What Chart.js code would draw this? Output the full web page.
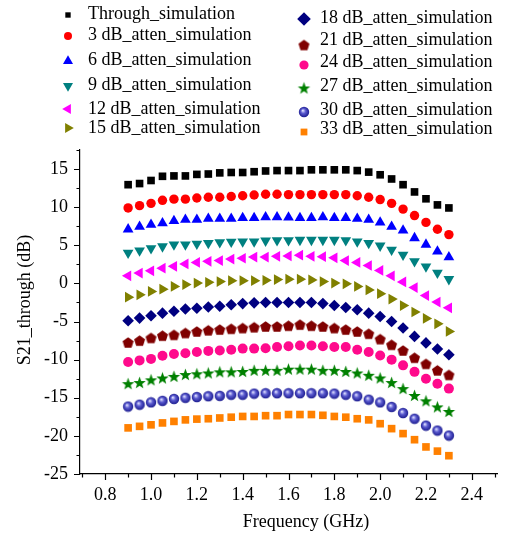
<!DOCTYPE html>
<html>
<head>
<meta charset="utf-8">
<script src="https://cdn.jsdelivr.net/npm/chart.js@4/dist/chart.umd.min.js"></script>
<style>
  html, body { margin: 0; padding: 0; background: #fff; }
  canvas { display: block; }
</style>
</head>
<body>
<canvas id="chart" width="505" height="536"></canvas>
<script>
// Frequency points (GHz)
const freqGHz = [0.90, 0.95, 1.00, 1.05, 1.10, 1.15, 1.20, 1.25, 1.30, 1.35,
                 1.40, 1.45, 1.50, 1.55, 1.60, 1.65, 1.70, 1.75, 1.80, 1.85,
                 1.90, 1.95, 2.00, 2.05, 2.10, 2.15, 2.20, 2.25, 2.30];

// S21 (dB) for each attenuator setting
const through = [12.95, 13.1, 13.5, 14.05, 14.1, 14.1, 14.3, 14.35, 14.5, 14.55,
                 14.55, 14.65, 14.75, 14.8, 14.8, 14.8, 14.9, 14.9, 14.9, 14.9,
                 14.8, 14.6, 14.25, 13.7, 12.95, 12.0, 11.1, 10.3, 9.9];
const atten3  = [9.9, 10.2, 10.5, 10.9, 11.05, 11.05, 11.2, 11.3, 11.3, 11.4,
                 11.5, 11.6, 11.7, 11.7, 11.65, 11.65, 11.65, 11.65, 11.65, 11.65,
                 11.5, 11.3, 11.0, 10.5, 9.75, 8.9, 8.0, 7.1, 6.4];
const atten6  = [7.1, 7.45, 7.7, 7.9, 8.2, 8.35, 8.35, 8.5, 8.5, 8.5,
                 8.6, 8.6, 8.7, 8.7, 8.65, 8.6, 8.6, 8.7, 8.6, 8.6,
                 8.5, 8.35, 8.0, 7.45, 6.95, 5.95, 5.1, 4.2, 3.45];
const atten9  = [4.0, 4.3, 4.6, 4.85, 5.1, 5.1, 5.2, 5.3, 5.4, 5.45,
                 5.5, 5.5, 5.6, 5.65, 5.65, 5.7, 5.7, 5.7, 5.7, 5.65,
                 5.5, 5.3, 4.95, 4.4, 3.75, 2.9, 2.2, 1.4, 0.55];
const atten12 = [1.0, 1.35, 1.65, 2.0, 2.25, 2.55, 2.75, 2.9, 3.0, 3.2,
                 3.3, 3.45, 3.45, 3.55, 3.6, 3.7, 3.55, 3.5, 3.35, 3.0,
                 2.75, 2.35, 1.7, 1.0, 0.2, -0.55, -1.6, -2.45, -3.2];
const atten15 = [-1.8, -1.5, -1.05, -0.75, -0.4, -0.15, 0.05, 0.15, 0.25, 0.35,
                 0.35, 0.35, 0.4, 0.5, 0.55, 0.55, 0.45, 0.25, 0.05, -0.05,
                 -0.4, -0.85, -1.35, -2.05, -2.9, -3.75, -4.6, -5.3, -6.3];
const atten18 = [-4.9, -4.55, -4.25, -3.9, -3.65, -3.35, -3.25, -3.1, -3.0, -2.8,
                 -2.65, -2.55, -2.5, -2.5, -2.5, -2.5, -2.5, -2.65, -2.9, -3.15,
                 -3.45, -3.9, -4.35, -5.0, -5.85, -6.95, -7.8, -8.6, -9.35];
const atten21 = [-7.75, -7.5, -7.15, -6.85, -6.75, -6.5, -6.3, -6.15, -6.05, -5.95,
                 -5.85, -5.75, -5.65, -5.65, -5.55, -5.4, -5.55, -5.65, -5.85, -6.05,
                 -6.3, -6.6, -7.3, -8.05, -8.8, -9.75, -10.55, -11.4, -12.0];
const atten24 = [-10.3, -10.1, -9.9, -9.5, -9.25, -9.15, -9.0, -8.85, -8.8, -8.7,
                 -8.55, -8.55, -8.5, -8.35, -8.25, -8.15, -8.15, -8.25, -8.35, -8.35,
                 -8.7, -9.0, -9.45, -10.0, -10.75, -11.6, -12.5, -13.15, -13.8];
const atten27 = [-13.15, -13.0, -12.65, -12.4, -12.2, -11.95, -11.85, -11.75, -11.6, -11.6,
                 -11.55, -11.4, -11.4, -11.4, -11.25, -11.25, -11.25, -11.4, -11.4, -11.55,
                 -11.75, -12.05, -12.4, -13.0, -13.8, -14.7, -15.4, -16.2, -16.8];
const atten30 = [-16.15, -15.9, -15.6, -15.4, -15.15, -15.0, -14.9, -14.8, -14.75, -14.6,
                 -14.6, -14.45, -14.4, -14.4, -14.4, -14.4, -14.4, -14.4, -14.45, -14.6,
                 -14.8, -15.25, -15.6, -16.2, -17.0, -17.75, -18.65, -19.3, -19.95];
const atten33 = [-18.95, -18.75, -18.55, -18.3, -18.1, -17.9, -17.8, -17.75, -17.65, -17.55,
                 -17.45, -17.45, -17.35, -17.35, -17.2, -17.2, -17.2, -17.3, -17.45, -17.55,
                 -17.75, -17.9, -18.4, -19.05, -19.7, -20.5, -21.45, -22.0, -22.6];

const seriesLabels = ['Through_simulation', '3 dB_atten_simulation', '6 dB_atten_simulation',
  '9 dB_atten_simulation', '12 dB_atten_simulation', '15 dB_atten_simulation',
  '18 dB_atten_simulation', '21 dB_atten_simulation', '24 dB_atten_simulation',
  '27 dB_atten_simulation', '30 dB_atten_simulation', '33 dB_atten_simulation'];
const seriesValues = [through, atten3, atten6, atten9, atten12, atten15,
                      atten18, atten21, atten24, atten27, atten30, atten33];

// Y-axis range and tick step (dB), X-axis range and tick step (GHz)
const yMin = -25, yMax = 17.5, yStep = 2.5;
const xMin = 0.69, xMax = 2.51, xStep = 0.1;

const FONT = '"Liberation Serif", "Times New Roman", serif';

// ---- custom marker bitmaps ----
function makeMarker(size, paint) {
  const c = document.createElement('canvas');
  c.width = size; c.height = size;
  paint(c.getContext('2d'), size / 2);
  return c;
}
function polygon(g, cx, cy, n, r, start) {
  g.beginPath();
  for (let i = 0; i < n; i++) {
    const a = start + i * 2 * Math.PI / n;
    const px = cx + r * Math.cos(a), py = cy + r * Math.sin(a);
    i ? g.lineTo(px, py) : g.moveTo(px, py);
  }
  g.closePath();
}
const pentagon = makeMarker(13, (g, c) => {
  g.fillStyle = '#800000';
  polygon(g, c, c + 0.5, 5, 5.8, -Math.PI / 2);
  g.fill();
});
const star = makeMarker(15, (g, c) => {
  g.fillStyle = '#008000';
  g.beginPath();
  for (let i = 0; i < 10; i++) {
    const r = i % 2 ? 2.7 : 6.5;
    const a = -Math.PI / 2 + i * Math.PI / 5;
    const px = c + r * Math.cos(a), py = c + 0.6 + r * Math.sin(a);
    i ? g.lineTo(px, py) : g.moveTo(px, py);
  }
  g.closePath();
  g.fill();
});
const sphere = makeMarker(12, (g, c) => {
  const grad = g.createRadialGradient(c - 1.2, c - 1.5, 0.3, c, c, 5.5);
  grad.addColorStop(0, '#dfe0ff');
  grad.addColorStop(0.4, '#5c5cd0');
  grad.addColorStop(1, '#16168a');
  g.fillStyle = grad;
  g.beginPath();
  g.arc(c, c, 5.2, 0, Math.PI * 2);
  g.fill();
});

// ---- marker style per series ----
const styles = [
  { color: '#000000', pointStyle: 'rect',     radius: 5.4, rotation: 0,   legendRadius: 3.8 },
  { color: '#ff0000', pointStyle: 'circle',   radius: 4.7, rotation: 0,   legendRadius: 4.0 },
  { color: '#0000ff', pointStyle: 'triangle', radius: 6.2, rotation: 0,   legendRadius: 5.8 },
  { color: '#008080', pointStyle: 'triangle', radius: 6.2, rotation: 180, legendRadius: 5.8 },
  { color: '#ff00ff', pointStyle: 'triangle', radius: 6.2, rotation: 270, legendRadius: 5.8 },
  { color: '#808000', pointStyle: 'triangle', radius: 6.2, rotation: 90,  legendRadius: 5.8 },
  { color: '#000080', pointStyle: 'rectRot',  radius: 5.8, rotation: 0,   legendRadius: 6.8 },
  { color: '#800000', pointStyle: pentagon,   radius: 5,   rotation: 0,   legendRadius: 5 },
  { color: '#ff0a8c', pointStyle: 'circle',   radius: 5.0, rotation: 0,   legendRadius: 4.6 },
  { color: '#008000', pointStyle: star,       radius: 5,   rotation: 0,   legendRadius: 5 },
  { color: '#16168a', pointStyle: sphere,     radius: 5,   rotation: 0,   legendRadius: 5 },
  { color: '#ff8000', pointStyle: 'rect',     radius: 5.4, rotation: 0,   legendRadius: 4.8 }
];

const datasets = seriesValues.map((vals, i) => ({
  label: seriesLabels[i],
  data: vals.map((v, k) => ({ x: freqGHz[k], y: v })),
  showLine: false,
  pointStyle: styles[i].pointStyle,
  pointRadius: styles[i].radius,
  pointRotation: styles[i].rotation,
  pointBackgroundColor: styles[i].color,
  pointBorderColor: styles[i].color,
  pointBorderWidth: 0,
  legendRadius: styles[i].legendRadius
}));

// ---- two-column legend drawn above the plot ----
const legendPlugin = {
  id: 'twoColumnLegend',
  afterDraw(chart) {
    const ctx = chart.ctx;
    const cols = [
      { markerX: 68,  textX: 88,  markerY: [15, 36, 61, 86, 109, 128], textY: [14, 35, 60, 85, 109, 128] },
      { markerX: 304, textX: 320, markerY: [19, 45, 65, 88, 112, 132], textY: [18, 40, 62, 86, 110, 129] }
    ];
    ctx.save();
    chart.data.datasets.forEach((ds, i) => {
      const col = cols[i < 6 ? 0 : 1];
      const row = i % 6;
      const mx = col.markerX, my = col.markerY[row];
      ctx.fillStyle = ds.pointBackgroundColor;
      ctx.strokeStyle = ds.pointBorderColor;
      if (typeof ds.pointStyle === 'object') {
        ctx.drawImage(ds.pointStyle, mx - ds.pointStyle.width / 2, my - ds.pointStyle.height / 2);
      } else {
        Chart.helpers.drawPoint(ctx, {
          pointStyle: ds.pointStyle, rotation: ds.pointRotation,
          radius: ds.legendRadius, borderWidth: 0
        }, mx, my);
      }
      ctx.fillStyle = '#000';
      ctx.font = '18px ' + FONT;
      ctx.textBaseline = 'middle';
      ctx.textAlign = 'left';
      ctx.fillText(ds.label, col.textX, col.textY[row]);
    });
    ctx.restore();
  }
};

// ---- outward tick marks (long for labelled, short for minor) and axis titles ----
const axisDecor = {
  id: 'axisDecor',
  afterDraw(chart) {
    const ctx = chart.ctx;
    const xs = chart.scales.x, ys = chart.scales.y;
    ctx.save();
    ctx.strokeStyle = '#000';
    ctx.lineWidth = 1.2;
    ctx.beginPath();
    xs.ticks.forEach(t => {
      const px = Math.round(xs.getPixelForValue(t.value)) + 0.5;
      const len = t.label !== '' ? 6 : 3.5;
      ctx.moveTo(px, xs.top);
      ctx.lineTo(px, xs.top + len);
    });
    ys.ticks.forEach(t => {
      const py = Math.round(ys.getPixelForValue(t.value)) + 0.5;
      const len = t.label !== '' ? 6 : 3.5;
      ctx.moveTo(ys.right, py);
      ctx.lineTo(ys.right - len, py);
    });
    ctx.stroke();

    ctx.fillStyle = '#000';
    ctx.font = '18px ' + FONT;
    ctx.textAlign = 'center';
    ctx.textBaseline = 'middle';
    ctx.fillText('Frequency (GHz)', 306, 522);
    ctx.translate(25, 300);
    ctx.rotate(-Math.PI / 2);
    ctx.fillText('S21_through (dB)', 0, 0);
    ctx.restore();
  }
};

new Chart(document.getElementById('chart'), {
  type: 'scatter',
  data: { datasets },
  options: {
    responsive: false,
    animation: false,
    devicePixelRatio: 1,
    layout: { padding: { top: 150, right: 8, left: 0, bottom: 0 } },
    plugins: {
      legend: { display: false },
      tooltip: { enabled: false }
    },
    scales: {
      x: {
        type: 'linear',
        min: xMin, max: xMax,
        border: { display: true, color: '#000', width: 1.2 },
        grid: { display: true, drawOnChartArea: false, drawTicks: true, tickLength: 6, tickColor: 'rgba(0,0,0,0)' },
        ticks: {
          stepSize: xStep, includeBounds: false, autoSkip: false, maxRotation: 0,
          padding: 4, color: '#000', font: { family: FONT, size: 18 },
          callback: v => { const k = Math.round(v * 10); return k % 2 === 0 ? (k / 10).toFixed(1) : ''; }
        },
        afterFit(scale) { scale.height = 62; }
      },
      y: {
        type: 'linear',
        min: yMin, max: yMax,
        border: { display: true, color: '#000', width: 1.2 },
        grid: { display: true, drawOnChartArea: false, drawTicks: true, tickLength: 6, tickColor: 'rgba(0,0,0,0)' },
        ticks: {
          stepSize: yStep, includeBounds: false, autoSkip: false,
          padding: 6, color: '#000', font: { family: FONT, size: 18 },
          callback: v => (Math.round(v * 2) % 10 === 0 ? String(Math.round(v)) : '')
        },
        afterFit(scale) { scale.width = 80; }
      }
    }
  },
  plugins: [legendPlugin, axisDecor]
});
</script>
</body>
</html>
